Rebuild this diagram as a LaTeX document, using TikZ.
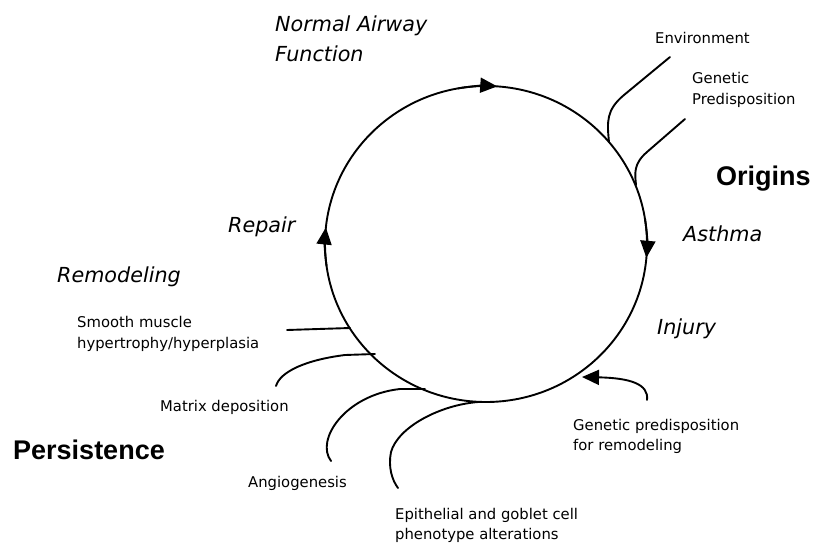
\documentclass[tikz,border=0pt]{standalone}
\usepackage{fontspec}
\setmainfont{DejaVu Sans}[ItalicFont={DejaVu Sans Oblique},BoldFont={DejaVu Sans Bold}]
\newfontfamily\headfont{Liberation Sans}[BoldFont={Liberation Sans Bold}]
\usetikzlibrary{arrows.meta}
\begin{document}
\begin{tikzpicture}[x=1pt,y=1pt,
  line/.style={line width=1.9pt, line cap=round},
  tipped/.style={line, -{Triangle[length=17pt,width=15pt]}},
  small/.style={anchor=base west, inner sep=0pt, font=\fontsize{14.8}{17}\selectfont},
  stage/.style={anchor=base west, inner sep=0pt, font=\fontsize{20.7}{24}\selectfont\itshape},
  big/.style={anchor=base west, inner sep=0pt, font=\fontsize{27}{31}\selectfont\headfont\bfseries}]
\fill[white] (0,0) rectangle (813,542);
\useasboundingbox (0,0) rectangle (813,542);

% cycle
\coordinate (C) at (486,298);
\draw[line] (C) ellipse [x radius=161pt, y radius=158pt];
\draw[tipped] ([shift={(C)}]100:161pt and 158pt) arc[start angle=100, end angle=86, x radius=161pt, y radius=158pt];
\draw[tipped] ([shift={(C)}]9:161pt and 158pt) arc[start angle=9, end angle=-5, x radius=161pt, y radius=158pt];
\draw[tipped] ([shift={(C)}]188:161pt and 158pt) arc[start angle=188, end angle=174, x radius=161pt, y radius=158pt];

% stage labels
\node[stage] (normal1) at (275,510) {Normal Airway};
\node[stage] (normal2) at (275,480) {Function};
\node[stage] (repair) at (228,310) {Repair};
\node[stage] (remod) at (57,260) {Remodeling};
\node[stage] (asthma) at (683,301) {Asthma};
\node[stage] (injury) at (657,208) {Injury};

% big labels
\node[big] (origins) at (716,357) {Origins};
\node[big] (persist) at (13,83) {Persistence};

% small labels
\node[small] (env) at (655,498) {Environment};
\node[small] (gen1) at (692,458) {Genetic};
\node[small] (gen2) at (692,437) {Predisposition};
\node[small] (sm1) at (77,215) {Smooth muscle};
\node[small] (sm2) at (77,194) {hypertrophy/hyperplasia};
\node[small] (matrix) at (160,131) {Matrix deposition};
\node[small] (angio) at (248,55) {Angiogenesis};
\node[small] (epi1) at (395,23) {Epithelial and goblet cell};
\node[small] (epi2) at (395,3) {phenotype alterations};
\node[small] (gr1) at (573,112) {Genetic predisposition};
\node[small] (gr2) at (573,92) {for remodeling};

% origin branches
\coordinate (envEnd) at (670,485);
\coordinate (envJ) at (609,400);
\draw[line] (envEnd) -- (624,447) .. controls (606,432) and (607,420) .. (envJ);
\coordinate (genEnd) at (685,423);
\coordinate (genJ) at (636,357);
\draw[line] (genEnd) -- (647,390) .. controls (633,378) and (635,368) .. (genJ);

% persistence branches
\coordinate (smJ) at (350,214);
\coordinate (smEnd) at (287,212);
\draw[line] (smJ) -- (smEnd);
\coordinate (maJ) at (375,188);
\coordinate (maEnd) at (276,156);
\draw[line] (maJ) -- (345,187) .. controls (305,182) and (280,170) .. (maEnd);
\coordinate (anJ) at (425,153);
\coordinate (anEnd) at (331,81);
\draw[line] (anJ) -- (400,153) .. controls (345,147) and (315,102) .. (anEnd);
\coordinate (epJ) at (478,140);
\coordinate (epEnd) at (398,54);
\draw[line] (epJ) .. controls (440,137) and (398,115) .. (391,90) .. controls (388,75) and (392,62) .. (epEnd);

% genetic predisposition for remodeling
\coordinate (grStart) at (647,142);
\coordinate (grTip) at (582,165);
\draw[tipped] (grStart) .. controls (649,158) and (630,164) .. (grTip);
\end{tikzpicture}
\end{document}
